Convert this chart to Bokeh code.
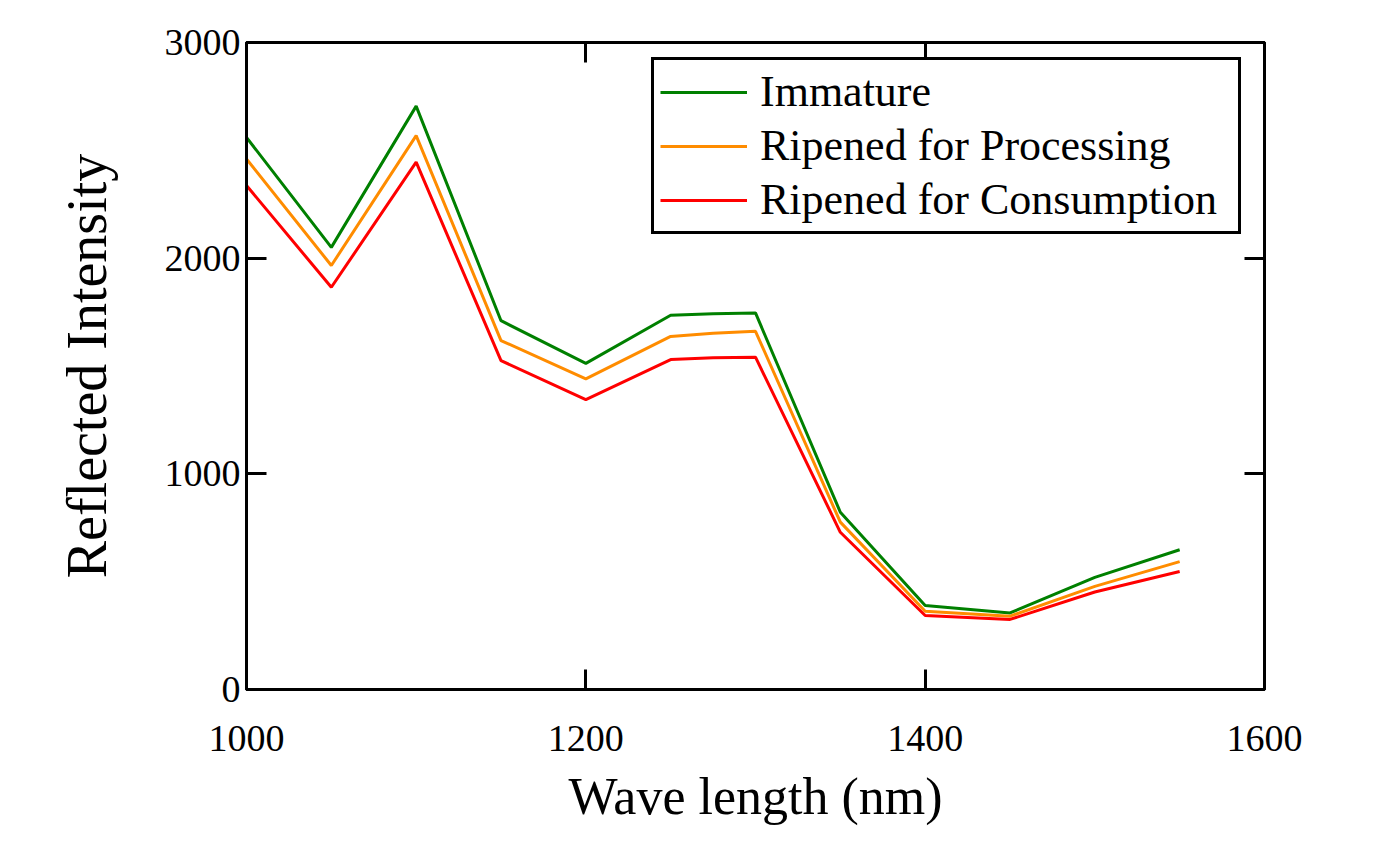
from bokeh.plotting import figure
from bokeh.models import Range1d, LinearAxis, FixedTicker, Legend, LegendItem
from bokeh.embed import file_html
from bokeh.resources import INLINE

wavelength = [1000, 1050, 1100, 1150, 1200, 1250, 1275, 1300, 1350, 1400, 1450, 1500, 1550]
immature = [2560, 2050, 2705, 1710, 1512, 1735, 1742, 1746, 822, 390, 355, 520, 648]
processing = [2460, 1966, 2568, 1618, 1440, 1637, 1652, 1661, 776, 363, 340, 478, 593]
consumption = [2337, 1865, 2445, 1525, 1344, 1530, 1538, 1541, 729, 343, 325, 452, 547]

series_names = ["Immature", "Ripened for Processing", "Ripened for Consumption"]
series_colors = ["#008000", "#ff8c00", "#ff0000"]
x_ticks = [1000, 1200, 1400, 1600]
y_ticks = [0, 1000, 2000, 3000]

FONT = "Liberation Serif"

p = figure(width=1375, height=843, output_backend="svg", toolbar_location=None,
           x_range=Range1d(1000, 1600), y_range=Range1d(0, 3000),
           min_border_left=246, min_border_right=111, min_border_top=42, min_border_bottom=154,
           x_axis_location=None, y_axis_location=None)
p.xgrid.visible = False
p.ygrid.visible = False
p.outline_line_color = "black"
p.outline_line_width = 3
p.outline_line_alpha = 1
p.background_fill_color = "white"
p.border_fill_color = "white"


def style_axis(ax, ticks, show_labels):
    ax.ticker = FixedTicker(ticks=ticks)
    ax.axis_line_width = 3
    ax.axis_line_color = "black"
    ax.major_tick_in = 20
    ax.major_tick_out = 0
    ax.major_tick_line_width = 3
    ax.major_tick_line_color = "black"
    ax.minor_tick_line_color = None
    ax.major_label_text_font = FONT
    ax.major_label_text_color = "black"
    if show_labels:
        ax.major_label_text_font_size = "38px"
    else:
        ax.major_label_overrides = {t: "" for t in ticks}
        ax.major_label_text_font_size = "1px"
        ax.major_label_standoff = 0


xb = LinearAxis(axis_label="Wave length (nm)")
style_axis(xb, x_ticks, True)
xb.major_label_standoff = 36
xb.axis_label_text_font = FONT
xb.axis_label_text_font_size = "52px"
xb.axis_label_text_font_style = "normal"
xb.axis_label_text_color = "black"
xb.axis_label_standoff = 14
p.add_layout(xb, "below")

yl = LinearAxis(axis_label="Reflected Intensity")
style_axis(yl, y_ticks, True)
yl.major_label_standoff = 6
yl.axis_label_text_font = FONT
yl.axis_label_text_font_size = "56px"
yl.axis_label_text_font_style = "normal"
yl.axis_label_text_color = "black"
yl.axis_label_standoff = 44
p.add_layout(yl, "left")

xt = LinearAxis()
style_axis(xt, x_ticks, False)
p.add_layout(xt, "above")

yr = LinearAxis()
style_axis(yr, y_ticks, False)
p.add_layout(yr, "right")

items = []
for name, ys, col in zip(series_names, [immature, processing, consumption], series_colors):
    r = p.line(wavelength, ys, line_color=col, line_width=3)
    items.append(LegendItem(label=name, renderers=[r]))

legend = Legend(items=items, location=(405, 455))
legend.label_text_font = FONT
legend.label_text_font_size = "44px"
legend.label_text_color = "black"
legend.glyph_width = 87
legend.label_standoff = 13
legend.label_height = 48
legend.label_width = 472
legend.spacing = 3
legend.padding = 6
legend.margin = 0
legend.border_line_color = "black"
legend.border_line_alpha = 1
legend.border_line_width = 3
legend.background_fill_color = "white"
legend.background_fill_alpha = 1
p.add_layout(legend, "center")

open("out.html", "w").write(file_html(p, INLINE))
